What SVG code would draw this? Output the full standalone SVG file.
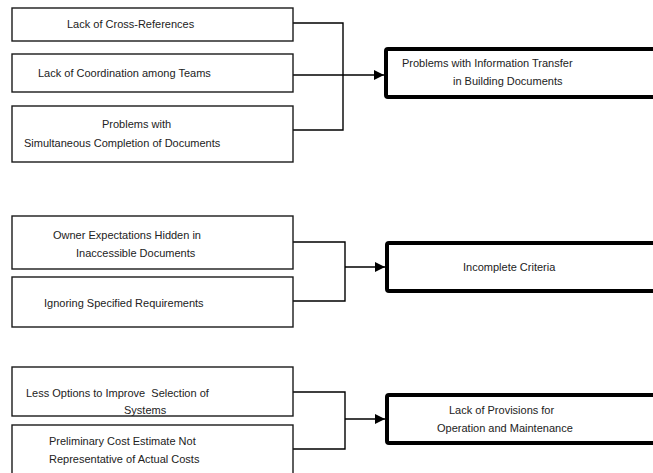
<svg xmlns="http://www.w3.org/2000/svg" width="653" height="473" viewBox="0 0 653 473">
  <style>
    .cause { fill: #ffffff; stroke: #1a1a1a; stroke-width: 1.4; }
    .effect { fill: #ffffff; stroke: #000000; stroke-width: 4; }
    .label { font-family: "Liberation Sans", Arial, sans-serif; font-size: 11px; fill: #222222; }
    .wire { fill: none; stroke: #000000; stroke-width: 1.4; }
    .feed { fill: none; stroke: #000000; stroke-width: 1.6; marker-end: url(#head); }
  </style>
  <defs>
    <marker id="head" markerUnits="userSpaceOnUse" markerWidth="11" markerHeight="10" refX="10" refY="5" orient="auto">
      <path d="M0,0 L10,5 L0,10 z" fill="#000000"/>
    </marker>
  </defs>
  <rect width="653" height="473" fill="#ffffff"/>

  <!-- connectors -->
  <g id="connectors">
    <path class="wire" d="M293,23 H343 V130 H293"/>
    <path class="feed" d="M293,75 H384"/>
    <path class="wire" d="M293,242 H345 V301 H293"/>
    <path class="feed" d="M345,267 H385"/>
    <path class="wire" d="M293,392 H345 V449 H293"/>
    <path class="feed" d="M345,419 H385"/>
  </g>

  <!-- group 1 -->
  <g id="cross-references">
    <rect class="cause" x="12" y="8" width="281" height="33"/>
    <text class="label" x="67" y="28">Lack of Cross-References</text>
  </g>
  <g id="coordination">
    <rect class="cause" x="12" y="54" width="281" height="38"/>
    <text class="label" x="38" y="77">Lack of Coordination among Teams</text>
  </g>
  <g id="simultaneous">
    <rect class="cause" x="12" y="106" width="281" height="56"/>
    <text class="label" x="102" y="128">Problems with</text>
    <text class="label" x="24" y="147">Simultaneous Completion of Documents</text>
  </g>
  <g id="information-transfer">
    <rect class="effect" x="386" y="49" width="300" height="48" rx="2"/>
    <text class="label" x="402" y="67">Problems with Information Transfer</text>
    <text class="label" x="453" y="85">in Building Documents</text>
  </g>

  <!-- group 2 -->
  <g id="owner-expectations">
    <rect class="cause" x="12" y="216" width="281" height="53"/>
    <text class="label" x="53" y="239">Owner Expectations Hidden in</text>
    <text class="label" x="76" y="257">Inaccessible Documents</text>
  </g>
  <g id="ignoring-requirements">
    <rect class="cause" x="12" y="277" width="281" height="50"/>
    <text class="label" x="44" y="307">Ignoring Specified Requirements</text>
  </g>
  <g id="incomplete-criteria">
    <rect class="effect" x="387" y="243" width="300" height="48" rx="2"/>
    <text class="label" x="463" y="271">Incomplete Criteria</text>
  </g>

  <!-- group 3 -->
  <g id="less-options">
    <rect class="cause" x="12" y="367" width="281" height="49"/>
    <text class="label" x="26" y="397" xml:space="preserve">Less Options to Improve  Selection of</text>
    <text class="label" x="124" y="414">Systems</text>
  </g>
  <g id="cost-estimate">
    <rect class="cause" x="12" y="425" width="281" height="60"/>
    <text class="label" x="49" y="445">Preliminary Cost Estimate Not</text>
    <text class="label" x="49" y="463">Representative of Actual Costs</text>
  </g>
  <g id="operation-maintenance">
    <rect class="effect" x="387" y="395" width="300" height="48" rx="2"/>
    <text class="label" x="449" y="414">Lack of Provisions for</text>
    <text class="label" x="437" y="432">Operation and Maintenance</text>
  </g>
</svg>
